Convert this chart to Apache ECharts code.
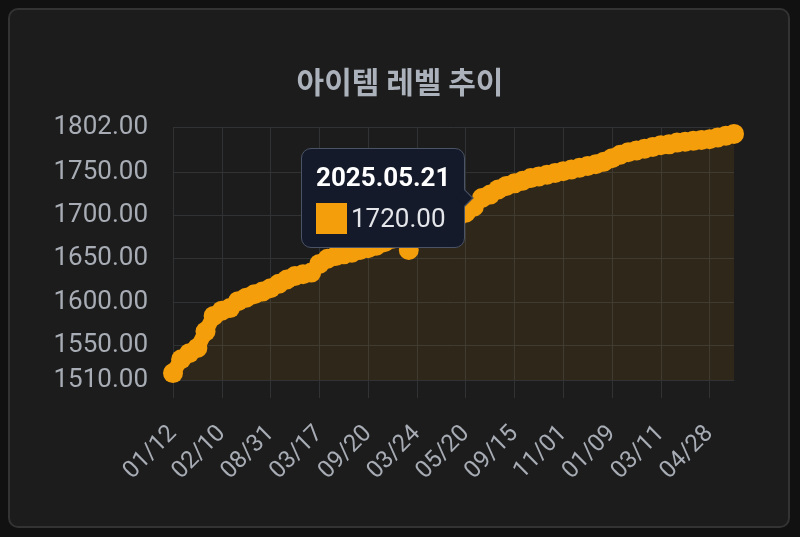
<!DOCTYPE html>
<html>
<head>
<meta charset="utf-8">
<script src="https://cdn.jsdelivr.net/npm/echarts@6/dist/echarts.min.js"></script>
<style>
  html, body { margin: 0; padding: 0; background: #111; }
  #card {
    position: absolute; left: 8px; top: 8px; width: 778px; height: 516px;
    background: #1c1c1c; border: 2px solid #333; border-radius: 10px;
  }
  #chart { position: absolute; left: 0; top: 0; width: 800px; height: 537px; }
</style>
</head>
<body>
<div id="card"></div>
<div id="chart"></div>
<script>
const dates = [
  '2023.01.12', '2023.01.15', '2023.01.19', '2023.01.25', '2023.01.28', '2023.02.04', '2023.02.10', '2023.02.22', '2023.03.08', '2023.03.29',
  '2023.04.19', '2023.05.10', '2023.08.31', '2023.09.13', '2023.09.27', '2023.10.18', '2023.11.08', '2023.12.20', '2024.03.17', '2024.03.27',
  '2024.04.10', '2024.05.01', '2024.05.22', '2024.06.19', '2024.09.20', '2024.10.09', '2024.11.06', '2024.12.18', '2025.01.22', '2025.02.19',
  '2025.03.24', '2025.04.02', '2025.04.16', '2025.04.30', '2025.05.07', '2025.05.14', '2025.05.20', '2025.05.20', '2025.05.21', '2025.06.04',
  '2025.06.25', '2025.07.16', '2025.09.15', '2025.09.24', '2025.10.01', '2025.10.08', '2025.10.15', '2025.10.22', '2025.11.01', '2025.11.12',
  '2025.11.26', '2025.12.03', '2025.12.17', '2025.12.31', '2026.01.09', '2026.01.21', '2026.01.28', '2026.02.11', '2026.02.25', '2026.03.04',
  '2026.03.11', '2026.03.18', '2026.03.25', '2026.04.01', '2026.04.08', '2026.04.15', '2026.04.28', '2026.05.06', '2026.05.13', '2026.05.20'
];

const levels = [
  1518, 1534, 1541, 1547, 1566, 1584, 1590, 1593, 1601, 1605,
  1609, 1612, 1616, 1621, 1626, 1630, 1632, 1634, 1644, 1650,
  1653, 1655, 1657, 1660, 1662, 1665, 1669, 1673, 1676, 1660,
  1681, 1684, 1688, 1691, 1695, 1698, 1703, 1710, 1720, 1724,
  1730, 1734, 1737, 1740, 1743, 1745, 1747, 1749, 1751, 1753,
  1755, 1757, 1759, 1762, 1766, 1770, 1773, 1775, 1777, 1779,
  1781, 1782, 1784, 1785, 1786, 1787, 1788, 1790, 1792, 1794
];

const yTicks = [1510, 1550, 1600, 1650, 1700, 1750, 1802];
const hoverIndex = 38;

const lineColor = '#f59e0b';
const gridColor = '#303234';
const labelColor = '#a7acb5';
const tipBg = '#141a29';
const tipBorder = '#4b5466';

const chart = echarts.init(document.getElementById('chart'), null, { renderer: 'canvas' });

const option = {
  animation: false,
  title: {
    text: '아이템 레벨 추이',
    left: 'center',
    top: 62,
    textStyle: {
      color: '#acb2bc',
      fontSize: 30,
      fontWeight: 'bold',
      fontFamily: 'Noto Sans CJK KR'
    }
  },
  grid: { left: 173, right: 66, top: 127, bottom: 157 },
  tooltip: {
    trigger: 'item',
    alwaysShowContent: true,
    transitionDuration: 0,
    backgroundColor: tipBg,
    borderColor: tipBorder,
    borderWidth: 1.5,
    padding: [9, 14],
    extraCssText: 'border-radius:10px;box-shadow:none;',
    // to the left of the point, arrow pointing at it
    position: (point, params, dom, rect, size) => {
      const [w, h] = size.contentSize;
      return [rect.x - w - 7, rect.y + rect.height / 2 - h / 2];
    },
    formatter: (p) => {
      const v = Number(p.value).toFixed(2);
      return `<div style="font-family:Roboto;font-weight:bold;font-size:26px;color:#fff;line-height:38px">${p.name}</div>`
        + `<div style="display:flex;align-items:center;margin-top:6px;margin-bottom:4px">`
        + `<span style="display:inline-block;width:31px;height:31px;background:${lineColor};margin-right:4px"></span>`
        + `<span style="font-family:Roboto;font-size:26px;color:#e4e6ea;line-height:32px">${v}</span></div>`
        + `<div style="position:absolute;right:-7px;top:50%;margin-top:-6px;width:11px;height:11px;`
        + `background:${tipBg};border-top:1.5px solid ${tipBorder};border-right:1.5px solid ${tipBorder};transform:rotate(45deg)"></div>`;
    }
  },
  xAxis: {
    type: 'category',
    boundaryGap: false,
    data: dates,
    axisLine: { show: true, lineStyle: { color: gridColor } },
    axisTick: { show: true, interval: 5, length: 18, lineStyle: { color: gridColor } },
    splitLine: { show: true, interval: 5, lineStyle: { color: gridColor } },
    axisLabel: {
      interval: 5,
      rotate: 45,
      margin: 50,
      color: labelColor,
      fontSize: 24,
      fontFamily: 'Roboto',
      formatter: (v) => v.slice(5).replace('.', '/')
    }
  },
  yAxis: {
    type: 'value',
    min: 1510,
    max: 1802,
    axisLine: { show: false },
    axisTick: { show: false, customValues: yTicks },
    splitLine: { show: true, lineStyle: { color: gridColor } },
    axisLabel: {
      customValues: yTicks,
      margin: 25,
      color: labelColor,
      fontSize: 26,
      fontFamily: 'Roboto',
      formatter: (v) => Number(v).toFixed(2)
    }
  },
  series: [{
    name: '아이템 레벨',
    type: 'line',
    data: levels,
    symbol: 'circle',
    symbolSize: 20,
    showSymbol: true,
    showAllSymbol: true,
    itemStyle: { color: lineColor },
    lineStyle: { color: lineColor, width: 15 },
    areaStyle: { color: 'rgba(245,158,11,0.12)' }
  }]
};

chart.setOption(option, true);
chart.dispatchAction({ type: 'showTip', seriesIndex: 0, dataIndex: hoverIndex });
setTimeout(() => {
  chart.dispatchAction({ type: 'showTip', seriesIndex: 0, dataIndex: hoverIndex });
}, 50);
</script>
</body>
</html>
